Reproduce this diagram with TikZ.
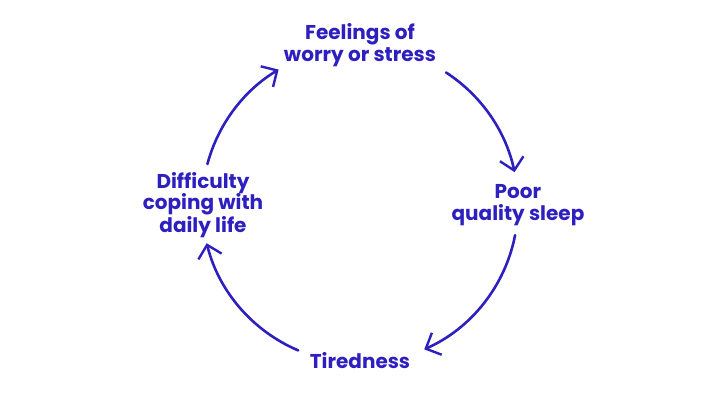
\documentclass[tikz,border=0pt]{standalone}
\usepackage{fontspec}
\setmainfont{Poppins}
\usetikzlibrary{arrows.meta,calc}
\definecolor{ink}{HTML}{2E1FBF}
\begin{document}
\begin{tikzpicture}[x=1pt,y=1pt,
  lbl/.style={text=ink,font=\bfseries\fontsize{20}{21.5}\selectfont,align=center,inner sep=0},
  cyc/.style={draw=ink,line width=2.6pt,line cap=round,-{Straight Barb[length=12pt,width=24pt,line width=2.4pt]}}]
\useasboundingbox (0,0) rectangle (720,405);
\node[lbl] (top) at (360,360) {Feelings of\\worry or stress};
\node[lbl] (right) at (518,200) {Poor\\quality sleep};
\node[lbl] (bottom) at (360,44) {Tiredness};
\node[lbl] (left) at (203,200) {Difficulty\\coping with\\daily life};
\coordinate (c) at (360,200);
\draw[cyc] ($(c)+(57:158)$) arc[start angle=57,end angle=12,radius=158];
\draw[cyc] ($(c)+(-11:158)$) arc[start angle=-11,end angle=-66,radius=158];
\draw[cyc] ($(c)+(-113:158)$) arc[start angle=-113,end angle=-166,radius=158];
\draw[cyc] ($(c)+(165:158)$) arc[start angle=165,end angle=121,radius=158];
\end{tikzpicture}
\end{document}
